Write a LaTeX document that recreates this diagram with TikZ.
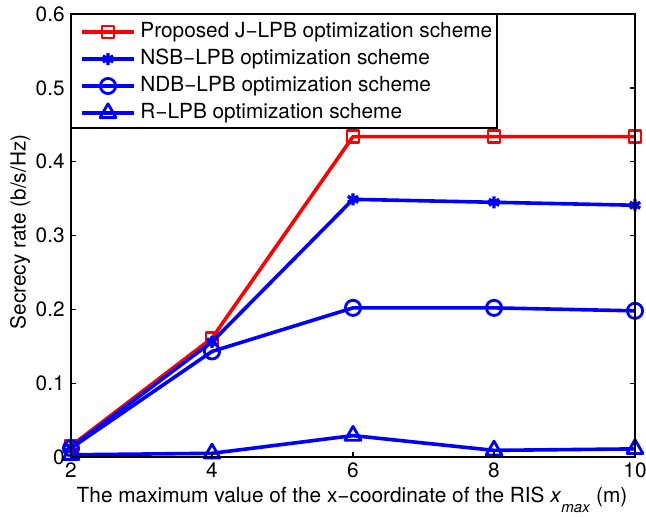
\documentclass[tikz,border=0pt]{standalone}
\usepackage{fontspec}
\setmainfont{TeX Gyre Heros}
\usetikzlibrary{plotmarks}
\tikzset{
	axis line/.style = {line width=0.65pt, black},
	tick label/.style = {font=\fontsize{10.4}{12}\selectfont, inner sep=0pt},
	series/.style = {line width=1.8pt, line join=round, mark options={solid, line width=1.4pt}},
	jlpb/.style = {series, red, mark=square, mark size=3pt},
	nsb/.style = {series, blue, mark=asterisk, mark size=3pt, mark options={solid, line width=1.7pt}},
	ndb/.style = {series, blue, mark=o, mark size=3.8pt},
	rlpb/.style = {series, blue, mark=triangle, mark size=4.6pt}
}

\begin{document}
\begin{tikzpicture}[x=0.5pt,y=0.5pt]
	\useasboundingbox (0,0) rectangle (646,516);
	% data area: x from 2 to 10, rate from 0 to 0.6
	\begin{scope}[shift={(-35pt,29.5pt)}, x=35.25pt, y=369.15pt]
		\draw[jlpb] plot coordinates {(2,0.015) (4,0.161) (6,0.434) (8,0.434) (10,0.434)};
		\draw[nsb] plot coordinates {(2,0.013) (4,0.156) (6,0.349) (8,0.345) (10,0.341)};
		\draw[ndb] plot coordinates {(2,0.012) (4,0.143) (6,0.202) (8,0.202) (10,0.198)};
		\draw[rlpb] plot coordinates {(2,0.003) (4,0.005) (6,0.029) (8,0.009) (10,0.011)};
		\draw[axis line] (2,0) rectangle (10,0.6);
		\foreach \x in {2,4,...,10} {
			\draw[axis line] (\x,0) -- ++(0,2.5pt);
			\draw[axis line] (\x,0.6) -- ++(0,-2.5pt);
			\node[tick label, anchor=north] (xt\x) at ([yshift=-2.5pt]\x,0) {\x};
		}
		\foreach \y/\lab in {0/0,0.1/0.1,0.2/0.2,0.3/0.3,0.4/0.4,0.5/0.5,0.6/0.6} {
			\draw[axis line] (2,\y) -- ++(2.5pt,0);
			\draw[axis line] (10,\y) -- ++(-2.5pt,0);
			\node[tick label, anchor=east] (yt\lab) at ([xshift=-3pt]2,\y) {\lab};
		}
	\end{scope}
	\node[tick label, anchor=base] (xlab) at (352,14) {The maximum value of the x−coordinate of the RIS \textit{x}\raisebox{-5pt}{\fontsize{7.5}{9}\selectfont\textit{max}} (m)};
	\node[tick label, rotate=90] (ylab) at (20,284) {Secrecy rate (b/s/Hz)};
	% legend
	\draw[axis line, fill=white] (71,388) rectangle (497,502);
	\draw[jlpb, mark indices={2}] plot coordinates {(82,484) (108,484) (134,484)};
	\draw[nsb, mark indices={2}] plot coordinates {(82,457) (108,457) (134,457)};
	\draw[ndb, mark indices={2}] plot coordinates {(82,430) (108,430) (134,430)};
	\draw[rlpb, mark indices={2}] plot coordinates {(82,403) (108,403) (134,403)};
	\node[tick label, anchor=west] (leg1) at (140,484) {Proposed J−LPB optimization scheme};
	\node[tick label, anchor=west] (leg2) at (140,457) {NSB−LPB optimization scheme};
	\node[tick label, anchor=west] (leg3) at (140,430) {NDB−LPB optimization scheme};
	\node[tick label, anchor=west] (leg4) at (140,403) {R−LPB optimization scheme};
\end{tikzpicture}
\end{document}
